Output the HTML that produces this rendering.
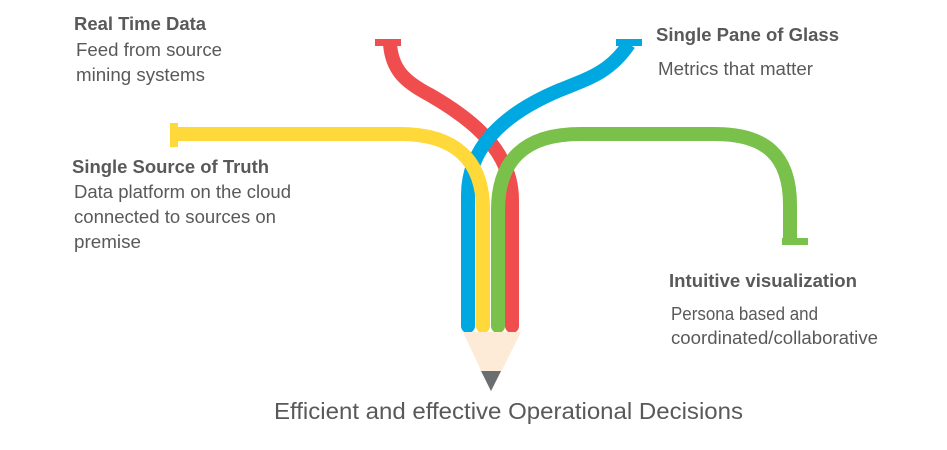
<!DOCTYPE html>
<html><head><style>
html,body{margin:0;padding:0;background:#fff;width:947px;height:450px;overflow:hidden}
text{font-family:"Liberation Sans",sans-serif;fill:#595959}
.h{font-weight:bold;font-size:18px}
.b{font-size:18px}
</style></head><body>
<svg width="947" height="450" viewBox="0 0 947 450">
<g fill="none" stroke-width="14" stroke-linecap="butt">
<path d="M390 44 C392 70 405 82 430 95 C470 118 512 150 512 200 L512 326" stroke="#F04E4E"/>
<path d="M629 44 C610 72 590 78 560 90 C500 115 468 150 468 195 L468 326" stroke="#00A8E1"/>
<path d="M177 134 L400 134 C455 134 483 160 483 210 L483 326" stroke="#FFD83A"/>
<path d="M790 240 L790 205 C790 155 765 134 715 134 L580 134 C525 134 498 160 498 210 L498 326" stroke="#79C14B"/>
</g>
<g stroke="none">
<circle cx="468" cy="326" r="7" fill="#00A8E1"/>
<circle cx="483" cy="326" r="7" fill="#FFD83A"/>
<circle cx="498" cy="326" r="7" fill="#79C14B"/>
<circle cx="512" cy="326" r="7" fill="#F04E4E"/>
<rect x="375" y="39" width="26" height="7" fill="#F04E4E"/>
<rect x="616" y="39" width="26" height="7" fill="#00A8E1"/>
<rect x="170" y="123" width="8" height="24" fill="#FFD83A"/>
<rect x="782" y="238" width="26" height="7" fill="#79C14B"/>
<polygon points="463,332 521,332 491,392" fill="#FDEBD7"/>
<polygon points="481,371 501,371 491,391" fill="#6B6E70"/>
</g>
<text class="h" x="74" y="30" textLength="132" lengthAdjust="spacingAndGlyphs">Real Time Data</text>
<text class="b" x="76" y="56" textLength="146" lengthAdjust="spacingAndGlyphs">Feed from source</text>
<text class="b" x="76" y="81" textLength="129" lengthAdjust="spacingAndGlyphs">mining systems</text>
<text class="h" x="72" y="173" textLength="197" lengthAdjust="spacingAndGlyphs">Single Source of Truth</text>
<text class="b" x="74" y="198" textLength="217" lengthAdjust="spacingAndGlyphs">Data platform on the cloud</text>
<text class="b" x="74" y="223" textLength="202" lengthAdjust="spacingAndGlyphs">connected to sources on</text>
<text class="b" x="74" y="248" textLength="67" lengthAdjust="spacingAndGlyphs">premise</text>
<text class="h" x="656" y="41" textLength="183" lengthAdjust="spacingAndGlyphs">Single Pane of Glass</text>
<text class="b" x="658" y="75" textLength="155" lengthAdjust="spacingAndGlyphs">Metrics that matter</text>
<text class="h" x="669" y="287" textLength="188" lengthAdjust="spacingAndGlyphs">Intuitive visualization</text>
<text class="b" x="671" y="320" textLength="147" lengthAdjust="spacingAndGlyphs">Persona based and</text>
<text class="b" x="671" y="344" textLength="207" lengthAdjust="spacingAndGlyphs">coordinated/collaborative</text>
<text x="274" y="419" style="font-size:23px" textLength="469" lengthAdjust="spacingAndGlyphs">Efficient and effective Operational Decisions</text>
</svg>
</body></html>
